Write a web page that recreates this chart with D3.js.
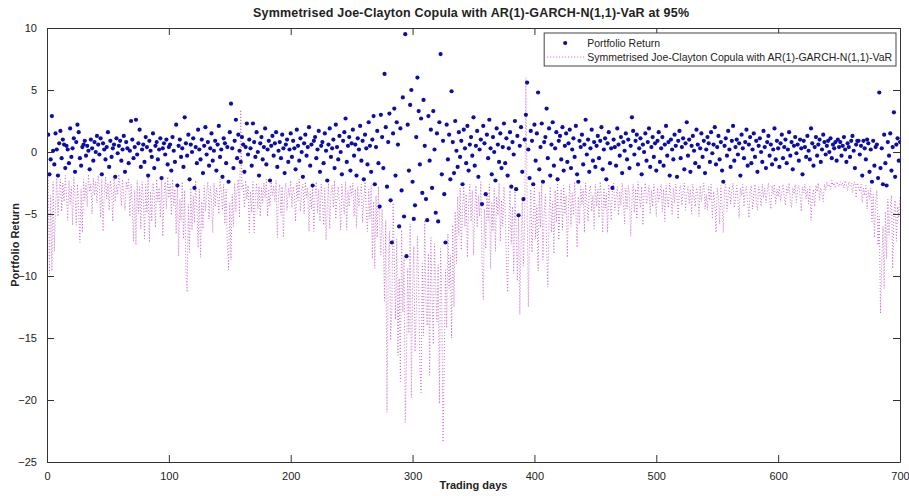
<!DOCTYPE html>
<html>
<head>
<meta charset="utf-8">
<script src="https://cdn.jsdelivr.net/npm/d3@7"></script>
<style>
  body { margin: 0; background: #fff; }
  svg text { font-family: "Liberation Sans", Arial, sans-serif; fill: #222; }
</style>
</head>
<body>
<div id="chart-container"></div>
<script>
// Portfolio returns, day 1..700 (25 per row)
const returns = [
  1.4, -1.8, -0.6, 2.9, 0.1, -1.0, 1.5, 0.2, -1.9, 0.7, 1.7, -0.5, 1.0, 0.6, -1.3, 0.5, 0.2, -0.9, 1.9, -0.4, 0.3, 1.1, -1.6, 0.8, 2.2,
  1.6, -0.5, -1.1, 0.4, 0.6, 0.9, -0.3, 0.5, 0.1, -1.4, 1.0, 0.3, -0.7, 0.8, 0.0, 1.3, 0.6, -0.2, 1.1, -1.8, 0.7, 0.2, -0.6, 0.4, 1.6,
  -1.2, 0.9, -0.4, 0.3, 0.6, -2.0, 1.1, -0.1, 0.5, 0.9, -0.7, 0.2, 1.3, -1.6, 0.8, 0.3, -0.9, 0.1, 2.5, 1.0, -0.5, 0.4, 2.6, -0.2, 0.7,
  1.8, -1.2, 0.2, 0.6, -0.8, 1.2, 0.4, -1.9, 0.9, 0.1, -0.4, 1.5, -1.3, 0.5, 0.8, -0.6, 0.2, 1.1, -2.1, 0.3, 0.7, -0.2, 1.0, -1.0, 0.4,
  0.6, -1.5, 1.2, 0.1, -0.8, 2.2, -2.7, 0.5, 1.0, -0.4, 0.3, -1.2, 2.8, 0.7, -0.3, 1.4, -2.2, 0.6, 0.0, 1.1, -2.9, 0.4, -0.9, 1.8, 0.2,
  -0.6, 1.0, -1.7, 0.5, 2.0, -0.2, 0.8, -1.1, 0.3, 1.5, -0.7, 0.1, 0.9, -1.5, 0.6, 2.1, -0.4, 0.2, -2.0, 1.1, 0.7, -0.9, 0.4, -2.4, 1.6,
  3.9, 0.3, -1.3, 0.9, 2.6, -0.5, 1.4, 0.1, -0.8, 1.2, 0.6, -1.6, 0.4, 2.3, -0.2, 1.0, 0.3, -1.1, 2.3, 0.8, -0.4, 1.6, 0.0, -1.9, 0.7,
  1.2, -0.6, 0.4, 1.9, -1.0, 0.2, 0.9, -2.3, 0.5, 1.3, -0.3, 0.7, 1.6, -1.2, 0.1, 0.8, -0.5, 1.4, 0.3, -1.7, 0.6, 1.0, -0.8, 0.2, 1.5,
  -0.4, 0.9, 0.3, -1.4, 1.8, 0.5, -0.7, 1.1, 0.0, -2.0, 0.7, 1.4, -0.3, 0.4, 2.0, -1.1, 0.6, -2.7, 0.9, 1.2, -0.5, 0.2, 1.7, -1.6, 0.5,
  0.8, -0.9, 1.5, 0.1, -2.3, 0.6, 1.9, -0.4, 0.3, 1.0, -1.3, 2.2, 0.4, -0.6, 1.3, 0.0, -1.8, 0.9, 1.6, 2.7, -0.8, 0.5, 1.2, -1.5, 0.7,
  1.8, -0.3, 0.6, -1.9, 1.1, 0.2, 2.1, -0.7, 0.9, -2.2, 1.4, 0.3, -1.0, 2.4, 0.5, -1.6, 1.0, 2.9, -2.6, 0.4, 1.7, -0.9, -4.4, 3.0, 1.2,
  -1.3, 6.3, 2.0, -2.8, 0.8, 3.1, -3.9, -7.3, 1.5, 3.5, -1.9, 2.4, 0.6, -6.0, 1.9, -3.1, 4.4, -5.2, 9.5, -8.4, 2.2, -1.5, 3.8, 5.0, -2.4,
  -5.4, -4.3, 1.2, 6.0, 3.3, -1.0, 2.7, -3.3, 4.2, 0.5, -3.8, -5.5, 2.9, -0.7, 1.8, -2.9, 3.3, 0.2, -4.9, 1.5, -5.6, 2.4, 7.9, -1.8, 0.9,
  -3.4, -7.3, 2.2, -0.6, 1.4, -2.2, 4.9, 0.8, -1.7, 2.5, 0.1, -1.2, 1.6, -0.4, 0.9, -2.6, 1.8, 0.3, -0.9, 2.1, -1.5, 0.6, 1.2, -0.3, 2.8,
  -1.1, 0.5, 1.7, -2.0, 0.2, 1.0, -4.2, 2.1, 0.7, -3.4, 1.4, -0.5, 2.6, 0.3, -1.8, 1.2, 0.0, -2.3, 1.9, 0.6, -0.8, 1.5, -1.3, 0.4, 2.3,
  -0.9, 1.1, -1.9, 0.3, 1.6, -2.8, 0.8, -0.2, 2.5, -3.0, 1.3, -5.1, 0.5, 2.0, -1.6, -3.8, 1.0, 3.0, 5.6, 0.2, -2.1, 1.7, 0.9, -2.6, 2.2,
  -0.7, 1.5, 4.8, -1.4, 0.4, 2.3, -2.4, 0.8, 1.2, 3.5, -0.5, 1.9, -1.9, 0.6, 2.4, -1.1, 0.3, 1.6, -2.2, 0.9, 1.3, -0.6, 2.0, -1.5, 0.5,
  1.5, -0.8, 0.7, 1.8, -1.3, 0.2, 1.1, -0.4, 2.1, -1.8, -2.4, 0.9, 0.4, 1.4, -1.0, 0.6, 2.6, -0.2, 1.0, -1.6, 0.3, 1.8, -0.7, 0.8, -1.2,
  0.5, 1.3, -0.5, 0.9, 2.0, -1.4, 0.2, 1.1, -2.2, 0.7, 1.6, -0.9, 0.3, -2.9, 1.0, 0.4, -1.1, 1.9, 0.6, -0.3, 1.2, -1.7, 0.8, 0.1, 1.5,
  -0.6, 1.0, -1.3, 0.5, 2.8, 1.7, -0.2, 0.9, 1.4, -1.0, 0.3, 1.1, -1.8, 0.6, 0.0, 1.5, -0.7, 0.8, 1.9, -1.2, 0.4, 1.2, -0.4, 0.7, -1.5,
  0.9, 1.6, -0.8, 0.3, 1.2, -1.1, 0.6, 2.1, -0.3, 0.8, -1.9, 1.0, 0.2, -0.6, 1.4, 0.5, -2.0, 0.9, 1.7, -0.5, 0.4, 1.1, -1.4, 0.7, 2.4,
  -0.3, 1.0, -1.6, 0.5, 1.3, 0.1, -0.9, 1.8, 0.6, -1.2, 0.3, 1.5, -0.4, 0.9, -1.7, 0.2, 1.2, 0.7, -0.8, 1.6, -0.1, 0.6, 2.0, -1.0, 0.4,
  1.3, -0.6, 0.8, -1.5, -2.4, 0.5, 1.1, -0.3, 1.7, 0.2, -1.2, 0.9, 2.1, -0.7, 0.4, 1.0, -0.2, 0.7, -1.9, 1.4, 0.3, -0.5, 0.8, 1.8, -1.1,
  0.6, 1.2, -0.9, 0.2, 1.5, -0.4, 0.9, -1.6, 0.5, 1.1, 0.0, -0.8, 1.7, 0.4, -1.3, 0.8, 1.3, -0.3, 0.6, -1.0, 0.2, 1.9, -0.6, 0.9, 0.3,
  -1.2, 0.7, 1.4, -0.5, 0.4, 1.0, -0.9, 0.2, 1.6, -0.3, 0.8, -1.4, 0.5, 1.2, -0.1, 0.6, -0.7, 1.0, 0.3, -1.8, 0.9, 0.4, -0.4, 1.3, 0.1,
  -0.6, 1.9, 0.7, -1.1, 0.4, 1.2, -0.3, 0.6, 1.0, -0.8, 0.2, 1.4, 0.8, -0.2, 0.5, 0.9, 0.0, 1.1, -0.5, 0.6, 0.3, 0.8, -0.7, 1.0, 0.4,
  0.8, -0.3, 0.5, 1.2, 0.2, -0.8, 0.7, 0.4, -0.4, 0.9, 1.3, 0.1, -1.3, 0.6, 0.9, 0.9, -0.2, 0.5, -1.9, 0.9, 0.3, -0.6, 1.0, 0.7, -1.6,
  0.2, -2.4, 0.9, -1.1, 0.4, 0.6, -2.1, 4.8, -1.3, 0.3, -2.6, 1.4, -0.9, -2.7, 0.8, -0.3, 1.5, -1.5, 0.4, 3.2, -2.0, 0.6, 1.1, -0.7, 0.8
];

// Symmetrised Joe-Clayton copula AR(1)-GARCH-N(1,1) VaR at 95%, day 1..700
const valueAtRisk = [
  -2.0, -9.8, -3.5, -9.6, -2.4, -8.0, -4.5, -2.1, -5.2, -3.0, -2.2, -4.8, -2.5, -4.0, -1.9, -3.6, -5.5, -2.3, -4.2, -2.8, -5.9, -2.0, -3.4, -5.9, -2.6,
  -4.6, -7.3, -3.0, -6.5, -2.2, -3.9, -2.5, -4.4, -1.8, -3.2, -2.6, -5.0, -2.1, -3.5, -2.4, -4.1, -1.9, -2.8, -5.3, -2.2, -6.4, -3.3, -2.0, -3.8, -2.5,
  -4.7, -2.3, -3.1, -5.6, -2.0, -4.0, -2.7, -3.4, -1.8, -2.9, -4.3, -2.2, -3.6, -4.7, -2.4, -3.0, -2.1, -5.2, -2.6, -4.4, -7.2, -3.1, -7.5, -2.3, -5.0,
  -2.8, -6.2, -2.4, -3.7, -7.0, -2.6, -4.9, -2.1, -7.3, -3.2, -5.6, -2.5, -3.4, -6.1, -2.2, -4.0, -2.9, -5.3, -2.3, -6.8, -3.5, -2.4, -4.6, -2.0, -3.7,
  -2.6, -5.1, -2.2, -4.3, -3.0, -6.6, -2.5, -8.4, -3.8, -5.5, -2.4, -7.0, -3.1, -9.6, -11.3, -4.2, -8.1, -2.9, -6.3, -3.5, -5.7, -2.3, -4.6, -7.7, -3.0,
  -8.5, -4.0, -6.2, -2.7, -4.8, -3.3, -2.4, -5.4, -2.8, -3.9, -6.5, -2.5, -4.4, -2.9, -3.6, -5.0, -2.2, -3.3, -4.7, -2.6, -5.8, -3.0, -7.4, -9.5, -4.1,
  -8.7, -3.4, -6.0, -2.5, -4.8, -3.1, -2.2, -5.3, 3.4, -3.0, -2.6, -4.5, -2.3, -3.8, -2.7, -6.5, -3.2, -4.9, -2.4, -6.5, -3.6, -2.5, -4.6, -2.8, -5.2,
  -2.9, -4.1, -2.5, -3.7, -2.2, -5.2, -3.0, -4.4, -2.4, -3.5, -2.7, -4.0, -2.3, -6.9, -3.4, -2.6, -5.1, -2.8, -6.9, -3.3, -2.5, -4.7, -2.9, -3.6, -2.3,
  -4.5, -2.8, -3.4, -5.6, -2.5, -3.9, -2.2, -4.8, -3.1, -2.6, -5.0, -2.4, -3.7, -2.9, -6.4, -3.2, -4.6, -2.7, -6.4, -3.5, -2.4, -4.9, -3.0, -5.6, -2.6,
  -3.8, -5.9, -2.9, -7.1, -4.3, -2.5, -6.2, -3.3, -2.7, -4.5, -2.3, -5.4, -3.6, -2.8, -4.1, -6.3, -2.6, -3.9, -5.0, -2.4, -6.3, -3.1, -4.4, -2.7, -3.5,
  -2.5, -5.2, -3.0, -6.1, -2.8, -4.4, -3.3, -2.6, -5.7, -3.9, -2.4, -4.8, -6.4, -3.0, -5.4, -2.7, -8.6, -4.0, -9.4, -3.5, -6.9, -2.8, -5.8, -8.3, -4.6,
  -7.4, -12.0, -5.5, -21.0, -9.8, -6.4, -15.2, -12.6, -4.1, -8.8, -13.5, -7.0, -16.4, -10.2, -18.5, -6.3, -12.9, -8.5, -21.8, -17.0, -9.4, -14.6, -5.8, -19.8, -11.3,
  -7.6, -16.1, -13.2, -6.8, -10.5, -17.3, -19.4, -9.0, -14.8, -5.5, -12.1, -14.0, -8.2, -18.0, -6.9, -11.6, -15.5, -7.4, -10.8, -13.7, -9.1, -20.3, -7.8, -12.4, -23.4,
  -16.8, -9.5, -14.2, -6.6, -11.0, -8.3, -15.0, -5.9, -12.5, -4.8, -9.0, -3.6, -6.7, -2.9, -7.9, -4.5, -2.8, -6.0, -3.4, -8.5, -4.2, -2.6, -5.6, -3.1, -8.3,
  -4.8, -2.7, -6.1, -3.5, -5.2, -2.4, -8.8, -11.9, -4.6, -7.8, -3.2, -5.5, -2.6, -9.4, -4.1, -6.4, -2.9, -8.0, -3.6, -5.1, -2.5, -7.2, -3.9, -6.0, -2.8,
  -4.7, -8.9, -11.3, -5.6, -3.1, -7.4, -4.4, -9.8, -2.9, -6.3, -10.4, -5.0, -13.1, -7.6, -3.8, -9.2, -5.4, 6.0, -4.2, -12.5, -6.8, -3.0, -8.1, -5.5, -2.7,
  -7.0, -4.3, -9.6, -3.2, -6.1, -2.6, -8.7, -4.9, -3.4, -7.8, -10.9, -5.2, -2.8, -6.5, -4.0, -8.2, -3.1, -5.7, -2.5, -7.1, -4.4, -3.0, -6.3, -2.7, -5.0,
  -3.5, -8.5, -4.1, -2.6, -6.0, -3.3, -5.1, -2.4, -4.6, -7.7, -3.6, -5.8, -2.8, -4.2, -3.0, -6.5, -2.5, -4.0, -5.6, -3.2, -2.7, -4.8, -3.5, -6.2, -2.6,
  -4.4, -3.0, -5.3, -2.4, -3.8, -6.5, -2.9, -4.5, -3.3, -6.5, -2.6, -4.0, -5.5, -3.1, -2.5, -4.7, -3.6, -2.8, -5.1, -3.2, -4.3, -2.5, -3.9, -5.8, -2.9,
  -4.6, -2.7, -3.4, -6.8, -3.9, -2.6, -4.9, -3.0, -5.4, -2.4, -3.7, -4.5, -2.8, -5.9, -3.3, -2.5, -4.2, -3.6, -2.7, -5.0, -3.1, -4.4, -2.6, -3.5, -5.2,
  -2.9, -4.0, -3.3, -2.6, -4.8, -3.0, -5.6, -2.7, -3.8, -4.5, -2.5, -3.4, -5.1, -2.9, -4.1, -2.6, -3.6, -5.4, -3.0, -2.7, -4.3, -3.2, -2.5, -4.7, -3.4,
  -2.8, -4.2, -3.0, -5.0, -2.6, -3.7, -4.4, -2.9, -3.3, -5.2, -2.7, -4.0, -3.1, -2.5, -4.6, -3.4, -4.7, -2.8, -3.9, -2.6, -5.4, -3.2, -4.1, -6.5, -2.9,
  -3.6, -5.8, -2.7, -4.3, -6.5, -3.0, -2.6, -4.8, -3.4, -2.8, -4.2, -3.1, -2.5, -4.5, -3.7, -2.7, -3.9, -5.3, -2.9, -3.5, -2.6, -4.4, -3.1, -2.8, -4.0,
  -5.3, -3.2, -2.7, -4.6, -3.5, -2.6, -3.9, -4.7, -2.8, -3.3, -4.4, -2.6, -3.7, -2.9, -4.1, -3.2, -2.5, -3.8, -4.6, -2.7, -3.4, -2.6, -4.2, -3.0, -3.6,
  -2.7, -4.0, -3.2, -2.6, -3.7, -4.3, -2.8, -3.3, -2.5, -3.9, -4.5, -2.9, -3.4, -2.6, -4.1, -3.0, -2.7, -3.5, -4.8, -2.8, -3.3, -2.6, -3.8, -3.0, -4.2,
  -2.8, -5.5, -3.6, -3.0, -4.4, -2.7, -3.2, -2.5, -3.9, -2.9, -3.4, -4.0, -2.6, -3.1, -2.4, -2.8, -2.6, -3.0, -2.3, -2.7, -2.5, -2.9, -2.4, -2.6, -2.8,
  -2.4, -2.7, -2.5, -2.9, -2.3, -2.6, -3.1, -2.4, -2.7, -2.5, -3.3, -2.6, -2.4, -3.7, -2.5, -2.8, -3.2, -2.6, -4.1, -2.9, -3.5, -2.7, -4.6, -3.1, -3.8,
  -2.9, -5.6, -3.4, -6.9, -4.0, -3.1, -7.5, -5.2, -13.0, -9.1, -6.0, -11.0, -4.8, -8.6, -3.8, -6.7, -4.5, -3.5, -9.4, -5.0, -3.9, -7.2, -4.4, -5.3, -3.6
];

const xTicks = [0, 100, 200, 300, 400, 500, 600, 700];
const yTicks = [10, 5, 0, -5, -10, -15, -20, -25];
const seriesNames = ['Portfolio Return', 'Symmetrised Joe-Clayton Copula with AR(1)-GARCH-N(1,1)-VaR'];

window.onload = () => {
  const W = 909, H = 496;
  const margin = { left: 47, top: 28, right: 9, bottom: 34 };
  const width = W - margin.left - margin.right;
  const height = H - margin.top - margin.bottom;
  const tickLen = 7;

  const svg = d3.select('div#chart-container')
    .append('svg')
    .attr('width', W)
    .attr('height', H);

  const g = svg.append('g')
    .attr('transform', `translate(${margin.left},${margin.top})`);

  const x = d3.scaleLinear().domain([0, 700]).range([0, width]);
  const y = d3.scaleLinear().domain([-25, 10]).range([height, 0]);

  // clip to the axes box
  svg.append('defs').append('clipPath').attr('id', 'plotclip')
    .append('rect').attr('width', width).attr('height', height);

  const plot = g.append('g').attr('clip-path', 'url(#plotclip)');

  // VaR dotted line
  const line = d3.line()
    .x((_, i) => x(i + 1))
    .y(d => y(d));

  plot.append('path')
    .datum(valueAtRisk)
    .attr('fill', 'none')
    .attr('stroke', '#c25cc8')
    .attr('stroke-width', 1)
    .attr('stroke-dasharray', '1,2')
    .attr('opacity', 0.85)
    .attr('d', line);

  // returns as dots
  plot.selectAll('circle.ret')
    .data(returns)
    .enter()
    .append('circle')
    .attr('class', 'ret')
    .attr('cx', (_, i) => x(i + 1))
    .attr('cy', d => y(d))
    .attr('r', 2.1)
    .attr('fill', '#0c0caa');

  // axes, MATLAB style: ticks pointing inward, on all four sides
  const axisStyle = sel => {
    sel.select('.domain').attr('stroke', '#333');
    sel.selectAll('.tick line').attr('stroke', '#333');
    sel.selectAll('.tick text').style('font-size', '11px').attr('fill', '#222');
  };

  g.append('g')
    .attr('transform', `translate(0,${height})`)
    .call(d3.axisBottom(x).tickValues(xTicks).tickSizeInner(-tickLen).tickSizeOuter(0).tickPadding(tickLen + 3))
    .call(axisStyle);

  g.append('g')
    .call(d3.axisTop(x).tickValues(xTicks).tickSizeInner(-tickLen).tickSizeOuter(0).tickFormat(''))
    .call(axisStyle);

  g.append('g')
    .call(d3.axisLeft(y).tickValues(yTicks).tickSizeInner(-tickLen).tickSizeOuter(0).tickPadding(tickLen + 3))
    .call(axisStyle);

  g.append('g')
    .attr('transform', `translate(${width},0)`)
    .call(d3.axisRight(y).tickValues(yTicks).tickSizeInner(-tickLen).tickSizeOuter(0).tickFormat(''))
    .call(axisStyle);

  // title and axis labels
  svg.append('text')
    .attr('x', 471)
    .attr('y', 17)
    .attr('text-anchor', 'middle')
    .attr('textLength', 436)
    .style('font-size', '12.5px')
    .style('font-weight', 'bold')
    .text('Symmetrised Joe-Clayton Copula with AR(1)-GARCH-N(1,1)-VaR at 95%');

  svg.append('text')
    .attr('x', margin.left + width / 2)
    .attr('y', 489)
    .attr('text-anchor', 'middle')
    .style('font-size', '11px')
    .style('font-weight', 'bold')
    .text('Trading days');

  svg.append('text')
    .attr('transform', `translate(19,${margin.top + height / 2}) rotate(-90)`)
    .attr('text-anchor', 'middle')
    .style('font-size', '11px')
    .style('font-weight', 'bold')
    .text('Portfolio Return');

  // legend, upper right inside the axes
  const legendLeft = x(408);
  const lg = g.append('g').attr('transform', `translate(${legendLeft},5)`);
  const lgW = width - legendLeft - 4;
  lg.append('rect')
    .attr('width', lgW)
    .attr('height', 33)
    .attr('fill', '#fff')
    .attr('stroke', '#444');

  lg.append('circle').attr('cx', 21).attr('cy', 10).attr('r', 2.1).attr('fill', '#0c0caa');
  lg.append('line')
    .attr('x1', 3).attr('x2', 40).attr('y1', 24).attr('y2', 24)
    .attr('stroke', '#c25cc8').attr('stroke-dasharray', '1,2');

  lg.selectAll('text.leg')
    .data(seriesNames)
    .enter()
    .append('text')
    .attr('class', 'leg')
    .attr('x', 43)
    .attr('y', (_, i) => 14 + i * 14)
    .style('font-size', '10.5px')
    .text(d => d);
};
</script>
</body>
</html>
